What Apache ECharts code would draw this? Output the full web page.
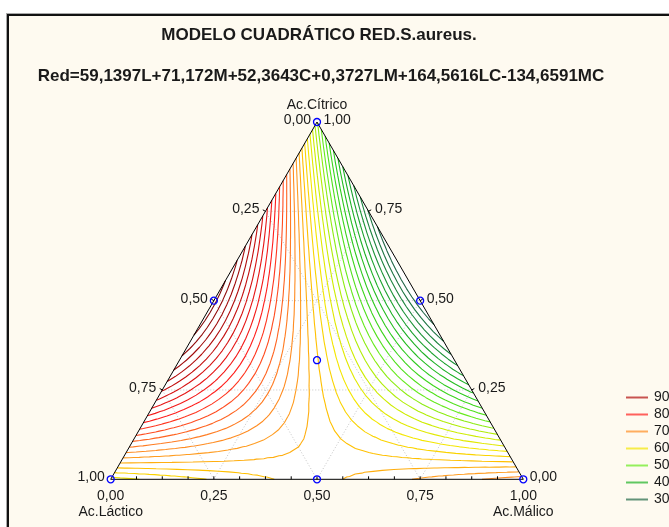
<!DOCTYPE html>
<html>
<head>
<meta charset="utf-8">
<script src="https://cdn.jsdelivr.net/npm/echarts@6/dist/echarts.min.js"></script>
<style>
html,body{margin:0;padding:0;background:#ffffff;overflow:hidden;width:669px;height:527px}
#frame{position:absolute;left:7px;top:14px;width:720px;height:600px;border-left:2px solid #111;border-top:2px solid #111;background:#fefaf0;box-shadow:-1px -1px 0 #a8a8a8}
#c{position:absolute;left:0;top:0;width:669px;height:527px}
</style>
</head>
<body>
<div id="frame"></div>
<div id="c"></div>
<script>
// ---------------- data ----------------
const titleText = 'MODELO CUADRÁTICO RED.S.aureus.';
const equationText = 'Red=59,1397L+71,172M+52,3643C+0,3727LM+164,5616LC-134,6591MC';
// model coefficients read from the equation: [L, M, C, LM, LC, MC]
const modelCoefficients = [59.1397, 71.172, 52.3643, 0.3727, 164.5616, -134.6591];
// contour levels
const contourLevels = [30,32,34,36,38,40,42,44,46,48,50,52,54,56,58,60,62,64,66,68,70,72,74,76,78,80,82,84,86,88,90,92,94,96];
const legendLevels = [90,80,70,60,50,40,30];
const componentNames = ['Ac.Láctico','Ac.Málico','Ac.Cítrico'];
const tickValues = [0, 0.25, 0.5, 0.75, 1];
const tickLabels = ['0,00','0,25','0,50','0,75','1,00'];
const gridValues = [0.25, 0.5, 0.75];
// design points (L, M, C)
const designPoints = [[1,0,0],[0,1,0],[0,0,1],[0.5,0.5,0],[0.5,0,0.5],[0,0.5,0.5],[1/3,1/3,1/3]];

// ---------------- helpers ----------------
const H = Math.sqrt(3) / 2;
function xy(L, M, C) { return [M + C / 2, C * H]; }
function modelValue(L, M, C) {
  const k = modelCoefficients;
  return k[0]*L + k[1]*M + k[2]*C + k[3]*L*M + k[4]*L*C + k[5]*M*C;
}
const colorStops = [
  [28,'#1a5a3a'],[30,'#206646'],[35,'#1c8c3c'],[40,'#1cb024'],[45,'#30d01a'],[50,'#66ea1c'],
  [55,'#c4ee00'],[60,'#f4e600'],[64,'#ffc000'],[68,'#ff9c20'],[72,'#ff7c22'],[76,'#ff4c20'],
  [80,'#ff1e1c'],[85,'#e01212'],[90,'#b00c0c'],[97,'#780808']
];
function hex2rgb(h){ return [parseInt(h.substr(1,2),16),parseInt(h.substr(3,2),16),parseInt(h.substr(5,2),16)]; }
function levelColor(v) {
  if (v <= colorStops[0][0]) return colorStops[0][1];
  for (let s = 1; s < colorStops.length; s++) {
    if (v <= colorStops[s][0]) {
      const a = colorStops[s-1], b = colorStops[s];
      const t = (v - a[0]) / (b[0] - a[0]);
      const ca = hex2rgb(a[1]), cb = hex2rgb(b[1]);
      const c = ca.map((x, i) => Math.round(x + t * (cb[i] - x)));
      return 'rgb(' + c.join(',') + ')';
    }
  }
  return colorStops[colorStops.length-1][1];
}

// marching triangles on a triangular simplex grid
const GRID_N = 40;
const V = [];
for (let i = 0; i <= GRID_N; i++) { V[i] = []; for (let j = 0; j <= GRID_N - i; j++) { const M = i/GRID_N, C = j/GRID_N; V[i][j] = modelValue(1-M-C, M, C); } }
function traceLevel(level) {
  const N = GRID_N;
  const pts = new Map(), adj = new Map();
  const key = (a, b) => { const ka = a[0]*1000 + a[1], kb = b[0]*1000 + b[1]; return ka < kb ? ka + '_' + kb : kb + '_' + ka; };
  function ep(a, b) {
    const k = key(a, b);
    if (!pts.has(k)) {
      const va = V[a[0]][a[1]], vb = V[b[0]][b[1]];
      const t = (level - va) / (vb - va);
      const M = (a[0] + t * (b[0] - a[0])) / N, C = (a[1] + t * (b[1] - a[1])) / N;
      pts.set(k, xy(1 - M - C, M, C));
    }
    return k;
  }
  function link(k1, k2) {
    if (!adj.has(k1)) adj.set(k1, []);
    if (!adj.has(k2)) adj.set(k2, []);
    adj.get(k1).push(k2); adj.get(k2).push(k1);
  }
  function tri(p, q, r) {
    const vs = [p, q, r];
    const up = vs.map(v => V[v[0]][v[1]] >= level);
    const cnt = up.filter(x => x).length;
    if (cnt === 0 || cnt === 3) return;
    let o = 0;
    for (let s = 0; s < 3; s++) if (up[s] !== up[(s+1)%3] && up[s] !== up[(s+2)%3]) o = s;
    link(ep(vs[o], vs[(o+1)%3]), ep(vs[o], vs[(o+2)%3]));
  }
  for (let i = 0; i < N; i++) for (let j = 0; j < N - i; j++) {
    tri([i,j],[i+1,j],[i,j+1]);
    if (i + j + 2 <= N) tri([i+1,j],[i,j+1],[i+1,j+1]);
  }
  const used = new Set();
  const sk = (a, b) => a < b ? a + '|' + b : b + '|' + a;
  const lines = [];
  function walk(start) {
    const line = [pts.get(start)];
    let cur = start;
    while (true) {
      const nx = adj.get(cur).find(k => !used.has(sk(cur, k)));
      if (nx === undefined) break;
      used.add(sk(cur, nx));
      line.push(pts.get(nx));
      cur = nx;
    }
    return line;
  }
  for (const [k, list] of adj) if (list.length === 1 && !used.has(sk(k, list[0]))) lines.push(walk(k));
  for (const [k, list] of adj) if (list.some(n => !used.has(sk(k, n)))) lines.push(walk(k));
  return lines;
}

const FONT = '"Liberation Sans", Arial, Helvetica, sans-serif';
const TXT = '#1a1a1a';

// ---------------- series ----------------
const series = [];
const vertices = [xy(1,0,0), xy(0,1,0), xy(0,0,1)];

// white triangle fill
series.push({
  type: 'custom', silent: true, animation: false, z: 1,
  data: [0],
  renderItem: function (params, api) {
    return { type: 'polygon', shape: { points: vertices.map(p => api.coord(p)) }, style: { fill: '#ffffff' } };
  }
});

// dotted grid lines
const gridData = [];
gridValues.forEach(v => {
  gridData.push(xy(1-v, 0, v), xy(0, 1-v, v), null);   // C = v
  gridData.push(xy(v, 1-v, 0), xy(v, 0, 1-v), null);   // L = v
  gridData.push(xy(1-v, v, 0), xy(0, v, 1-v), null);   // M = v
});
series.push({
  type: 'line', silent: true, animation: false, z: 2, symbol: 'none', connectNulls: false,
  data: gridData.map(p => p === null ? '-' : p),
  lineStyle: { color: '#c4c4c4', width: 1, type: [1, 2] }
});

// contour lines
contourLevels.forEach(level => {
  const col = levelColor(level);
  traceLevel(level).forEach(pl => {
    series.push({
      type: 'line', name: String(level), data: pl, symbol: 'none', showSymbol: false,
      silent: true, animation: false, clip: false, z: 3, color: col,
      lineStyle: { color: col, width: 1.1 }, itemStyle: { color: col }
    });
  });
});

// triangle outline
series.push({
  type: 'line', silent: true, animation: false, z: 4, symbol: 'none', clip: false,
  data: [vertices[0], vertices[1], vertices[2], vertices[0]],
  lineStyle: { color: '#000000', width: 1 }
});

// ticks: minor ticks on the bottom edge (every 1/16, inward), major ticks on side edges (outward)
const tickData = [];
for (let k = 1; k < 16; k++) tickData.push([0, k / 16, 1]);
[0.25, 0.5, 0.75].forEach(t => { tickData.push([1, t, -1]); tickData.push([2, t, -1]); });
const centroid = xy(1/3, 1/3, 1/3);
series.push({
  type: 'custom', silent: true, animation: false, z: 4,
  data: tickData,
  renderItem: function (params, api) {
    const e = api.value(0), t = api.value(1), dir = api.value(2);
    const a = vertices[e], b = vertices[(e+1)%3];
    const p = api.coord([a[0] + t*(b[0]-a[0]), a[1] + t*(b[1]-a[1])]);
    const pa = api.coord(a), pb = api.coord(b), pc = api.coord(centroid);
    let nx = -(pb[1]-pa[1]), ny = (pb[0]-pa[0]);
    const len = Math.hypot(nx, ny); nx /= len; ny /= len;
    if ((pc[0]-p[0])*nx + (pc[1]-p[1])*ny < 0) { nx = -nx; ny = -ny; }
    nx *= dir; ny *= dir;
    return { type: 'line', shape: { x1: p[0], y1: p[1], x2: p[0] + nx*3, y2: p[1] + ny*3 }, style: { stroke: '#000', lineWidth: 1 } };
  }
});

// tick labels and component names
const labelItems = [];
tickValues.forEach((v, i) => {
  const b = xy(1-v, v, 0); labelItems.push([b[0], b[1], tickLabels[i], 'bottom']);
  const l = xy(v, 0, 1-v); labelItems.push([l[0], l[1], tickLabels[i], 'left']);
  const r = xy(0, 1-v, v); labelItems.push([r[0], r[1], tickLabels[i], 'right']);
});
const nameVerts = [xy(1,0,0), xy(0,1,0), xy(0,0,1)];
labelItems.push([nameVerts[0][0], nameVerts[0][1], componentNames[0], 'nameBottom']);
labelItems.push([nameVerts[1][0], nameVerts[1][1], componentNames[1], 'nameBottom']);
labelItems.push([nameVerts[2][0], nameVerts[2][1], componentNames[2], 'nameTop']);
series.push({
  type: 'custom', silent: true, animation: false, z: 6,
  data: labelItems,
  dimensions: ['x','y','text','kind'],
  encode: { x: 0, y: 1 },
  renderItem: function (params, api) {
    const item = labelItems[params.dataIndex];
    const p = api.coord([item[0], item[1]]);
    let x = p[0], y = p[1], align = 'center';
    if (item[3] === 'bottom') { y += 17; }
    else if (item[3] === 'left') { x -= 6; y -= 2; align = 'right'; }
    else if (item[3] === 'right') { x += 6.5; y -= 2; align = 'left'; }
    else if (item[3] === 'nameBottom') { y += 33; }
    else if (item[3] === 'nameTop') { y -= 17; }
    return { type: 'text', x: x, y: y, style: { text: item[2], fill: TXT, font: '14px ' + FONT, align: align, verticalAlign: 'middle' } };
  }
});

// design points
series.push({
  type: 'scatter', silent: true, animation: false, z: 7, symbol: 'circle', symbolSize: 7,
  data: designPoints.map(p => xy(p[0], p[1], p[2])),
  itemStyle: { color: 'rgba(255,255,255,0)', borderColor: '#0000ff', borderWidth: 1.3, opacity: 1 }
});

const chart = echarts.init(document.getElementById('c'), null, { renderer: 'canvas' });
chart.setOption({
  backgroundColor: 'transparent',
  animation: false,
  textStyle: { fontFamily: FONT },
  grid: { left: 110.7, top: 122, width: 412.6, height: 357.3, containLabel: false },
  xAxis: { type: 'value', min: 0, max: 1, show: false },
  yAxis: { type: 'value', min: 0, max: H, show: false },
  legend: {
    orient: 'vertical', left: 626, top: 390.5, padding: 0, itemGap: 3,
    itemWidth: 22, itemHeight: 2, icon: 'rect',
    data: legendLevels.map(String),
    selectedMode: false,
    itemStyle: { opacity: 0.7 },
    textStyle: { fontSize: 14, lineHeight: 14, color: TXT, fontFamily: FONT, padding: [0,0,0,1] }
  },
  graphic: [
    { type: 'text', x: 319, y: 35, style: { text: titleText, font: 'bold 17px ' + FONT, fill: TXT, align: 'center', verticalAlign: 'middle' } },
    { type: 'text', x: 321, y: 76, style: { text: equationText, font: 'bold 17px ' + FONT, fill: TXT, align: 'center', verticalAlign: 'middle' } }
  ],
  series: series
});
</script>
</body>
</html>
